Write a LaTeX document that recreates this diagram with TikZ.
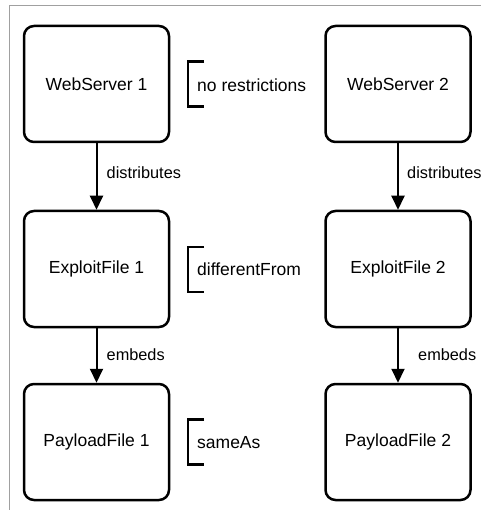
\documentclass[tikz,border=0pt]{standalone}
\usepackage{fontspec}
\setmainfont{Liberation Sans}
\usetikzlibrary{arrows.meta}
\definecolor{framegrey}{RGB}{160,160,160}
\tikzset{
  box/.style={draw=black, line width=2.5pt, rounded corners=10pt, minimum width=145pt, minimum height=116pt, inner sep=0pt, font=\fontsize{17.5}{20}\selectfont},
  flow/.style={line width=2pt, -{Triangle[length=14pt,width=13pt]}},
  elabel/.style={anchor=west, inner sep=0pt, font=\fontsize{16.3}{19}\selectfont},
  blabel/.style={anchor=west, inner sep=0pt, font=\fontsize{17.5}{20}\selectfont},
  bracket/.style={line width=2.8pt},
  frameline/.style={draw=framegrey, line width=1pt}
}
\begin{document}
\begin{tikzpicture}[x=1pt, y=-1pt]
\useasboundingbox (0,0) rectangle (481,510);
% partial frame
\coordinate (fl) at (9,510);
\coordinate (fc) at (9,6);
\coordinate (fr) at (481,6);
\draw[frameline] (fl) -- (fc) -- (fr);
% boxes
\node[box] (ws1) at (96.5,84) {WebServer 1};
\node[box] (ef1) at (96.5,269) {ExploitFile 1};
\node[box] (pf1) at (96.5,442) {PayloadFile 1};
\node[box] (ws2) at (398,84) {WebServer 2};
\node[box] (ef2) at (398,269) {ExploitFile 2};
\node[box] (pf2) at (398,442) {PayloadFile 2};
% arrows
\draw[flow] (ws1) -- (ef1);
\draw[flow] (ef1) -- (pf1);
\draw[flow] (ws2) -- (ef2);
\draw[flow] (ef2) -- (pf2);
% edge labels
\node[elabel] (d1) at (106.5,172.5) {distributes};
\node[elabel] (e1) at (106.5,355) {embeds};
\node[elabel] (d2) at (407,172.5) {distributes};
\node[elabel] (e2) at (418,355) {embeds};
% brackets
\node[blabel] (nr) at (197,85) {no restrictions};
\node[blabel] (df) at (197,269) {differentFrom};
\node[blabel] (sa) at (197,442.5) {sameAs};
\draw[bracket] (204,61.7) -- (188,61.7) -- (188,106.7) -- (204,106.7);
\draw[bracket] (204,247) -- (188,247) -- (188,292) -- (204,292);
\draw[bracket] (204,419.5) -- (188,419.5) -- (188,464.5) -- (204,464.5);
\end{tikzpicture}
\end{document}
